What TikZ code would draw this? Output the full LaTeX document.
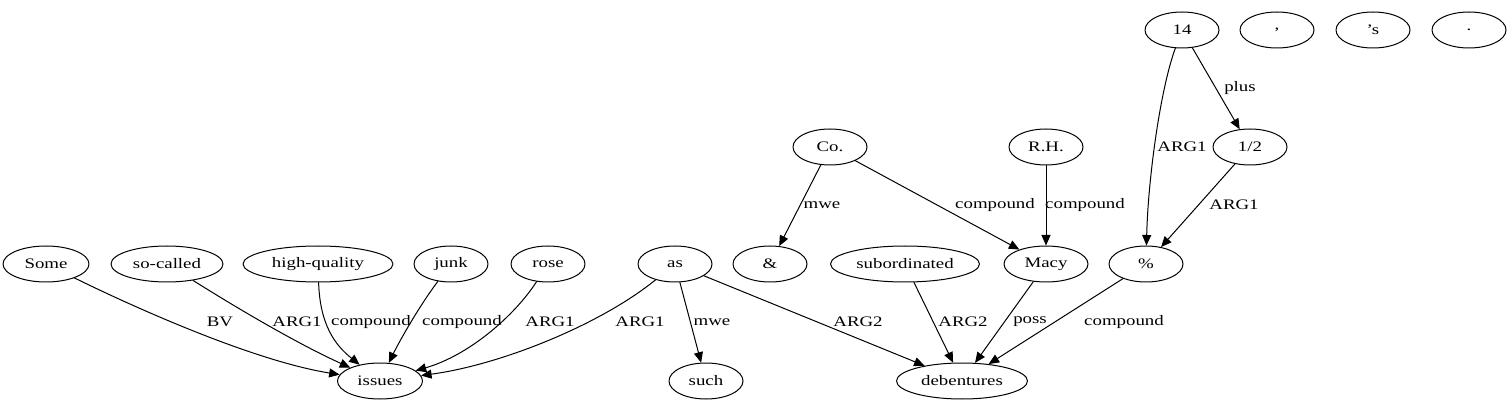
\documentclass[tikz,border=0pt]{standalone}
\usepackage{fontspec}
\setmainfont{Liberation Serif}[FakeStretch=1.3]
\usetikzlibrary{shapes.geometric,arrows.meta}
\begin{document}
\begin{tikzpicture}[x=1pt,y=-1pt,
  line cap=round,line join=round,
  every node/.style={font=\fontsize{14.5}{16}\selectfont},
  L/.style={line width=1pt,-{Triangle[length=10.5pt,width=9pt]}},
  v/.style={draw,line width=1pt,ellipse,minimum width=74pt,minimum height=36pt,inner sep=0pt},
  lbl/.style={inner sep=1pt}]
  \useasboundingbox (0,0) rectangle (1511,411);

  %% ---- top row: 14 and the loose tokens
  \node[v] (n14)   at (1182,30) {14};
  \node[v] (comma) at (1277,30) {,};
  \node[v] (aps)   at (1373,30) {’s};
  \node[v] (stop)  at (1469,30) {.};

  %% ---- second row
  \node[v] (co)   at (830,147)  {Co.};
  \node[v] (rh)   at (1046,147) {R.H.};
  \node[v] (half) at (1250,147) {1/2};

  %% ---- third row
  \node[v,minimum width=86pt]  (some)  at (46,264)   {Some};
  \node[v,minimum width=112pt] (socal) at (167,264)  {so-called};
  \node[v,minimum width=150pt] (highq) at (318,264)  {high-quality};
  \node[v] (junk) at (451,264) {junk};
  \node[v] (rose) at (548,264) {rose};
  \node[v] (as)   at (675,264) {as};
  \node[v] (amp)  at (770,264) {\&};
  \node[v,minimum width=149pt] (subord) at (905,264) {subordinated};
  \node[v,minimum width=84pt]  (macy)   at (1046,264) {Macy};
  \node[v] (pct)  at (1146,264) {\%};

  %% ---- bottom row
  \node[v,minimum width=85pt]  (issues) at (380,381) {issues};
  \node[v] (such) at (706,381) {such};
  \node[v,minimum width=131pt] (deb) at (962,381) {debentures};

  %% ---- edges into issues
  \draw[L] (some)  .. controls (150,315) and (260,362) .. (issues);
  \draw[L] (socal) .. controls (240,310) and (300,345) .. (issues);
  \draw[L] (highq) .. controls (320,325) and (335,345) .. (issues);
  \draw[L] (junk)  .. controls (420,305) and (400,340) .. (issues);
  \draw[L] (rose)  .. controls (515,315) and (470,355) .. (issues);
  \draw[L] (as)    .. controls (600,325) and (500,365) .. (issues);
  \node[lbl] (lbv)    at (220,322) {BV};
  \node[lbl] (lsoc)   at (297,322) {ARG1};
  \node[lbl] (lhighq) at (371,322) {compound};
  \node[lbl] (ljunk)  at (462,322) {compound};
  \node[lbl] (lrose)  at (550,322) {ARG1};
  \node[lbl] (lasi)   at (640,322) {ARG1};

  %% ---- edges into such and debentures
  \draw[L] (as) -- (such);
  \draw[L] (as) -- (deb);
  \draw[L] (subord) -- (deb);
  \draw[L] (macy) -- (deb);
  \draw[L] (pct) -- (deb);
  \node[lbl] (lsuch) at (712,322)  {mwe};
  \node[lbl] (lasd)  at (858,322)  {ARG2};
  \node[lbl] (lsub)  at (963,322)  {ARG2};
  \node[lbl] (lmacy) at (1030,322) {poss};
  \node[lbl] (lpct)  at (1124,322) {compound};

  %% ---- upper edges
  \draw[L] (co) -- (amp);
  \draw[L] (co) -- (macy);
  \draw[L] (rh) -- (macy);
  \draw[L] (n14) .. controls (1160,90) and (1148,180) .. (pct);
  \draw[L] (n14) -- (half);
  \draw[L] (half) -- (pct);
  \node[lbl] (lamp)  at (822,205)  {mwe};
  \node[lbl] (lco)   at (995,205)  {compound};
  \node[lbl] (lrh)   at (1085,205) {compound};
  \node[lbl] (l14)   at (1182,147) {ARG1};
  \node[lbl] (lplus) at (1240,88)  {plus};
  \node[lbl] (lhalf) at (1234,205) {ARG1};
\end{tikzpicture}
\end{document}
